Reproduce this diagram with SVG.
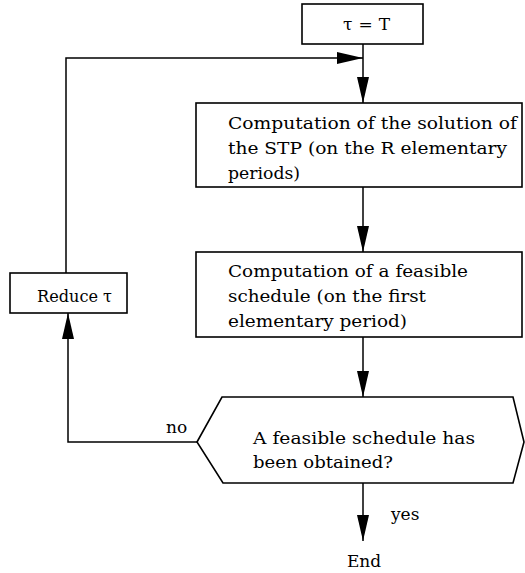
<svg xmlns="http://www.w3.org/2000/svg" width="525" height="573" viewBox="0 0 525 573">
<style>
.box{fill:#fff;stroke:#000;stroke-width:1.6}
.ln{fill:none;stroke:#000;stroke-width:1.5}
text{font-family:"DejaVu Serif","Liberation Serif",serif;font-size:17px;fill:#000}
</style>
<defs>
<marker id="ah" markerWidth="26" markerHeight="12" refX="26" refY="6" orient="auto" markerUnits="userSpaceOnUse">
<path d="M0,0 L26,6 L0,12 Z" fill="#000"/>
</marker>
</defs>
<rect width="525" height="573" fill="#fff"/>
<g id="connectors">
<line class="ln" x1="363" y1="44" x2="363" y2="103" marker-end="url(#ah)"/>
<line class="ln" x1="363" y1="187" x2="363" y2="252" marker-end="url(#ah)"/>
<line class="ln" x1="363" y1="337" x2="363" y2="397" marker-end="url(#ah)"/>
<line class="ln" x1="363" y1="483" x2="363" y2="541" marker-end="url(#ah)"/>
<polyline class="ln" points="197,442 68,442 68,313" marker-end="url(#ah)"/>
<polyline class="ln" points="66,273 66,58 363,58" marker-end="url(#ah)"/>
</g>
<g id="start">
<rect class="box" x="302" y="4" width="121" height="40"/>
<text x="343" y="30" textLength="47" lengthAdjust="spacing">τ = T</text>
</g>
<g id="stp">
<rect class="box" x="196" y="103" width="326" height="84"/>
<text x="228" y="129" textLength="289" lengthAdjust="spacingAndGlyphs">Computation of the solution of</text>
<text x="228" y="154" textLength="279" lengthAdjust="spacingAndGlyphs">the STP (on the R elementary</text>
<text x="228" y="179" textLength="72" lengthAdjust="spacingAndGlyphs">periods)</text>
</g>
<g id="schedule">
<rect class="box" x="196" y="252" width="326" height="85"/>
<text x="228" y="277" textLength="240" lengthAdjust="spacingAndGlyphs">Computation of a feasible</text>
<text x="228" y="302" textLength="198" lengthAdjust="spacingAndGlyphs">schedule (on the first</text>
<text x="228" y="327" textLength="179" lengthAdjust="spacingAndGlyphs">elementary period)</text>
</g>
<g id="decision">
<polygon class="box" points="197,442 222,397 513,397 524,442 513,483 223,483"/>
<text x="253" y="444" textLength="222" lengthAdjust="spacingAndGlyphs">A feasible schedule has</text>
<text x="253" y="468" textLength="140" lengthAdjust="spacingAndGlyphs">been obtained?</text>
</g>
<g id="reduce">
<rect class="box" x="10" y="273" width="117" height="40"/>
<text x="37" y="302" textLength="75" lengthAdjust="spacingAndGlyphs">Reduce τ</text>
</g>
<g id="labels">
<text x="166" y="433">no</text>
<text x="391" y="520">yes</text>
<text x="364" y="567" text-anchor="middle">End</text>
</g>
</svg>
